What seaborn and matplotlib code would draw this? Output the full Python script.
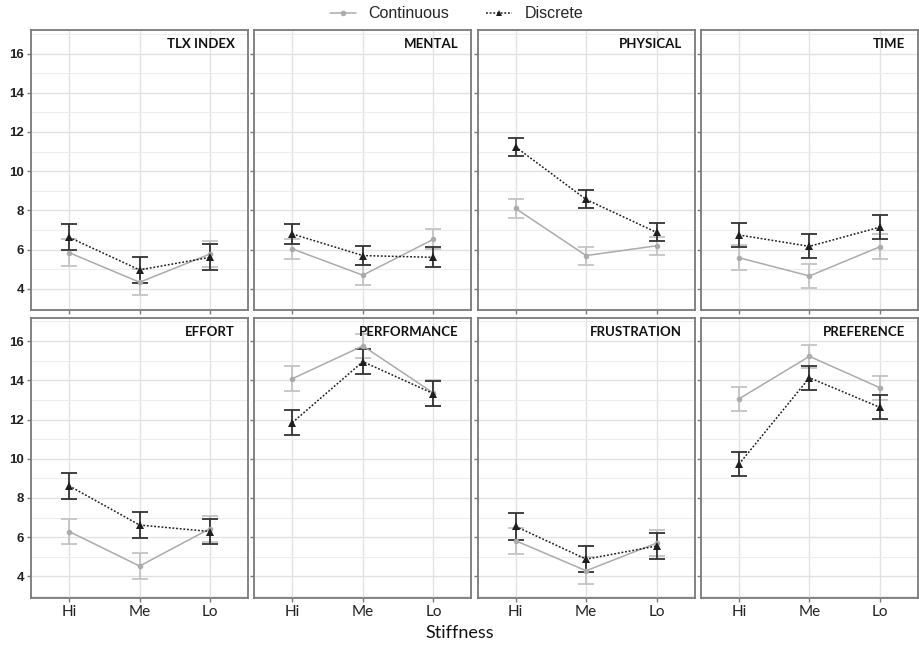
import pandas as pd
import matplotlib.pyplot as plt
import seaborn as sns
from matplotlib.ticker import MultipleLocator

sns.set_theme(style='whitegrid')
plt.rcParams['font.family'] = ['Liberation Sans', 'DejaVu Sans']

# data
panels = ['TLX INDEX', 'MENTAL', 'PHYSICAL', 'TIME',
          'EFFORT', 'PERFORMANCE', 'FRUSTRATION', 'PREFERENCE']
stiffness = ['Hi', 'Me', 'Lo']

cont_mean = [[5.85, 4.34, 5.78], [6.04, 4.70, 6.53], [8.10, 5.70, 6.20], [5.59, 4.66, 6.15],
             [6.29, 4.53, 6.44], [14.08, 15.75, 13.35], [5.82, 4.29, 5.70], [13.05, 15.22, 13.62]]
cont_err = [[0.67, 0.65, 0.68], [0.50, 0.51, 0.51], [0.46, 0.46, 0.46], [0.63, 0.62, 0.63],
            [0.65, 0.66, 0.66], [0.64, 0.63, 0.68], [0.67, 0.68, 0.67], [0.60, 0.60, 0.61]]
disc_mean = [[6.63, 4.97, 5.61], [6.80, 5.70, 5.61], [11.24, 8.56, 6.88], [6.75, 6.17, 7.15],
             [8.62, 6.62, 6.29], [11.84, 14.95, 13.32], [6.55, 4.88, 5.55], [9.72, 14.13, 12.62]]
disc_err = [[0.67, 0.67, 0.67], [0.52, 0.50, 0.51], [0.47, 0.46, 0.46], [0.62, 0.61, 0.62],
            [0.67, 0.66, 0.66], [0.65, 0.65, 0.64], [0.68, 0.66, 0.67], [0.61, 0.61, 0.61]]

rows = []
for p, name in enumerate(panels):
    for i, s in enumerate(stiffness):
        rows.append({'panel': name, 'x': i, 'stiff': s, 'series': 'Continuous',
                     'mean': cont_mean[p][i], 'err': cont_err[p][i]})
        rows.append({'panel': name, 'x': i, 'stiff': s, 'series': 'Discrete',
                     'mean': disc_mean[p][i], 'err': disc_err[p][i]})
df = pd.DataFrame(rows)

colors = {'Continuous': '#ababab', 'Discrete': '#1e1e1e'}
bar_colors = {'Continuous': '#c4c4c4', 'Discrete': '#333333'}

fig, axes = plt.subplots(2, 4, figsize=(9.19, 6.46), dpi=100, sharex=True, sharey=True)
fig.subplots_adjust(left=31 / 919, right=918 / 919, top=1 - 30 / 646, bottom=1 - 598 / 646,
                    wspace=0.028, hspace=0.025)

for ax, name in zip(axes.flat, panels):
    sub = df[df['panel'] == name]
    for s in ['Continuous', 'Discrete']:
        d = sub[sub['series'] == s]
        ax.errorbar(d['x'], d['mean'], yerr=d['err'], fmt='none', ecolor=bar_colors[s],
                    elinewidth=1.3, capsize=6, capthick=1.3, zorder=2)
    sns.lineplot(data=sub, x='x', y='mean', hue='series', style='series',
                 palette=colors, markers={'Continuous': 'o', 'Discrete': '^'},
                 dashes={'Continuous': '', 'Discrete': (1.2, 1.2)},
                 markersize=4, markeredgewidth=0, linewidth=1.1,
                 ax=ax, legend=False, zorder=3)
    for ln in ax.lines:
        if ln.get_marker() == '^':
            ln.set_markersize(5.5)
    ax.set_xlim(-0.54, 2.54)
    ax.set_ylim(2.9, 17.2)
    ax.set_xticks(range(3))
    ax.set_xticklabels(stiffness)
    ax.yaxis.set_major_locator(MultipleLocator(2))
    ax.yaxis.set_minor_locator(MultipleLocator(1))
    ax.set_yticks(range(4, 17, 2))
    ax.grid(which='major', color='#e2e2e2', linewidth=1.0)
    ax.grid(which='minor', axis='y', color='#ededed', linewidth=0.8)
    ax.set_facecolor('white')
    for sp in ax.spines.values():
        sp.set_color('#7a7a7a')
        sp.set_linewidth(1.3)
    ax.tick_params(which='major', length=3, width=1, color='#7a7a7a', direction='out',
                   bottom=True, left=True, pad=2)
    ax.tick_params(which='minor', length=0)
    ax.set_xlabel('')
    ax.set_ylabel('')
    ax.text(0.94, 0.95, name, transform=ax.transAxes, ha='right', va='center',
            fontsize=9.5, fontweight='bold', family=['Lato', 'DejaVu Sans'], color='#111111')

for ax in axes.flat:
    for lab in ax.get_yticklabels():
        lab.set_fontweight('bold')
        lab.set_fontsize(9.5)
        lab.set_color('#222222')
    for lab in ax.get_xticklabels():
        lab.set_fontsize(11)
        lab.set_family(['Lato', 'DejaVu Sans'])
        lab.set_color('#222222')

handles = [plt.Line2D([], [], color=colors['Continuous'], marker='o', markersize=4,
                      markeredgewidth=0, linewidth=1.1),
           plt.Line2D([], [], color=colors['Discrete'], marker='^', markersize=5,
                      markeredgewidth=0, linewidth=1.1, linestyle=(0, (1.2, 1.2)))]
fig.legend(handles, ['Continuous', 'Discrete'], loc='center', bbox_to_anchor=(0.497, 1 - 14 / 646),
           ncol=2, frameon=False, fontsize=11.5, handlelength=1.6, handletextpad=0.8,
           columnspacing=2.3)

fig.text(0.5, 1 - 633 / 646, 'Stiffness', ha='center', va='center', fontsize=13,
         family=['Lato', 'DejaVu Sans'], color='#111111')

fig.savefig('out.png', dpi=100)
